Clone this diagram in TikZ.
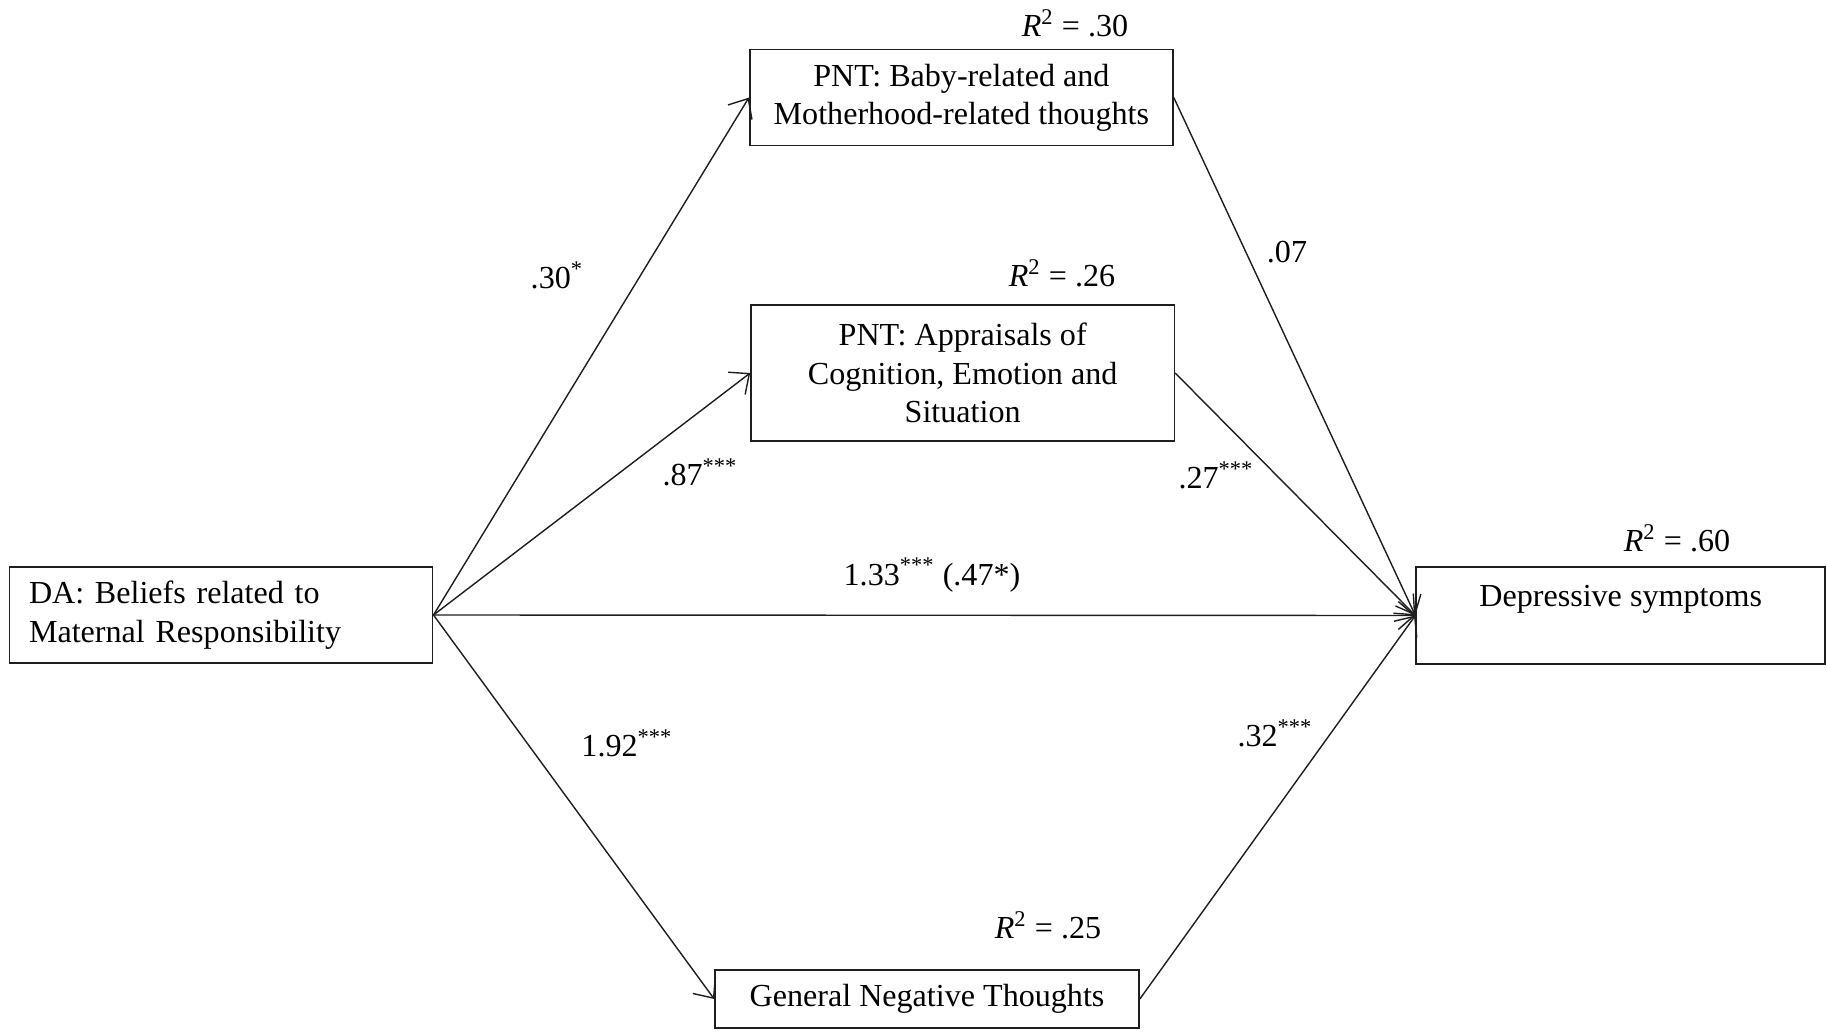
\documentclass[tikz,border=0pt]{standalone}
\usepackage{fontspec}
\setmainfont{Liberation Serif}
\usepackage{tikz}
\usetikzlibrary{arrows.meta}
\definecolor{NegroLinea}{RGB}{30,30,30}
\newcommand{\rcuad}[1]{\textit{R}\textsuperscript{2} = #1}
\newcommand{\estr}[1]{\textsuperscript{#1}}

\begin{document}
\begin{tikzpicture}[>={Straight Barb[length=2.4mm,width=4.2mm]},
  every node/.style={font=\fontsize{13.7}{16.5}\selectfont},
  caja/.style={draw=NegroLinea,line width=0.7pt,inner sep=0pt,minimum width=6.35cm},
  flecha/.style={->,NegroLinea,line width=0.6pt}]
  \useasboundingbox (0,0) rectangle (27.405,15.465);
  % variables
  \node[caja,minimum height=1.44cm,text width=5.76cm,align=left] (DA) at (3.315,6.24) {DA: Beliefs related to\\Maternal Responsibility};
  \node[caja,minimum height=1.44cm,align=center] (PNTb) at (14.42,14.0) {PNT: Baby-related and\\Motherhood-related thoughts};
  \node[caja,minimum height=2.04cm,align=center] (PNTa) at (14.44,9.87) {PNT: Appraisals of\\Cognition, Emotion and\\Situation};
  \node[caja,minimum height=0.87cm,minimum width=6.36cm] (GNT) at (13.905,0.48) {General Negative Thoughts};
  \node[caja,minimum height=1.455cm,minimum width=6.135cm,align=center] (Dep) at (24.31,6.2325) {Depressive symptoms\\ \mbox{}};
  % R cuadrado
  \node (rPNTb) at (16.125,15.12) {\rcuad{.30}};
  \node (rPNTa) at (15.93,11.37) {\rcuad{.26}};
  \node (rDep) at (25.155,7.395) {\rcuad{.60}};
  \node (rGNT) at (15.72,1.59) {\rcuad{.25}};
  % caminos
  \draw[flecha] (DA.east) -- (PNTb.west);
  \draw[flecha] (DA.east) -- (PNTa.west);
  \draw[flecha] (DA.east) -- (GNT.west);
  \draw[flecha] (DA.east) -- (Dep.west);
  \draw[flecha] (PNTb.east) -- (Dep.west);
  \draw[flecha] (PNTa.east) -- (Dep.west);
  \draw[flecha] (GNT.east) -- (Dep.west);
  % coeficientes
  \node (cb) at (8.355,11.34) {.30\estr{*}};
  \node (ca) at (10.5,8.385) {.87\estr{***}};
  \node (cg) at (9.405,4.32) {1.92\estr{***}};
  \node (bb) at (19.305,11.685) {.07};
  \node (ba) at (18.24,8.34) {.27\estr{***}};
  \node (bg) at (19.125,4.47) {.32\estr{***}};
  \node (cd) at (13.98,6.84) {1.33\estr{***} (.47*)};
\end{tikzpicture}
\end{document}
